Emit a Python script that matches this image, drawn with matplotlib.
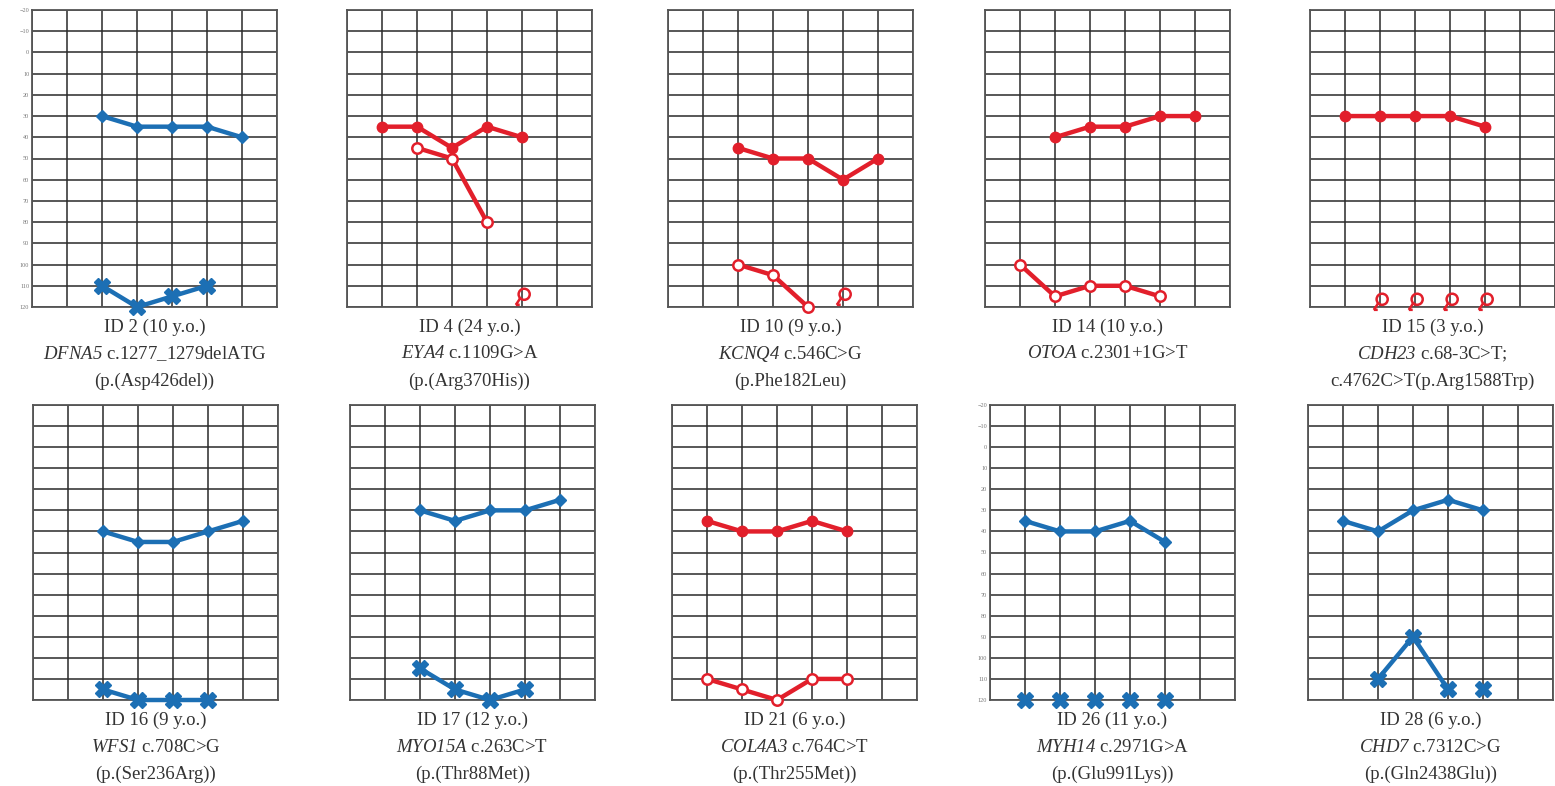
import matplotlib
matplotlib.use("Agg")
import matplotlib.pyplot as plt
from matplotlib.path import Path

plt.rcParams['font.family'] = ['Liberation Serif', 'DejaVu Serif']
plt.rcParams['mathtext.fontset'] = 'custom'
# \mathrm{} inside math mode is used for the italic gene names (digits included)
plt.rcParams['mathtext.rm'] = 'Liberation Serif:italic'
plt.rcParams['mathtext.it'] = 'Liberation Serif:italic'

BLUE = '#1c6fb4'
RED = '#e21f2b'
TXT = '#333333'

# ---- axes ----
db_ticks = list(range(-20, 121, 10))
freq_pos = list(range(8))

# ---- captions ----
ids = ["ID 2 (10 y.o.)", "ID 4 (24 y.o.)", "ID 10 (9 y.o.)", "ID 14 (10 y.o.)", "ID 15 (3 y.o.)",
       "ID 16 (9 y.o.)", "ID 17 (12 y.o.)", "ID 21 (6 y.o.)", "ID 26 (11 y.o.)", "ID 28 (6 y.o.)"]
genes = ["DFNA5", "EYA4", "KCNQ4", "OTOA", "CDH23", "WFS1", "MYO15A", "COL4A3", "MYH14", "CHD7"]
variants = ["c.1277_1279delATG", "c.1109G>A", "c.546C>G", "c.2301+1G>T", "c.68-3C>T;",
            "c.708C>G", "c.263C>T", "c.764C>T", "c.2971G>A", "c.7312C>G"]
proteins = ["(p.(Asp426del))", "(p.(Arg370His))", "(p.Phe182Leu)", "", "c.4762C>T(p.Arg1588Trp)",
            "(p.(Ser236Arg))", "(p.(Thr88Met))", "(p.(Thr255Met))", "(p.(Glu991Lys))", "(p.(Gln2438Glu))"]

# ---- thresholds (x = frequency position, y = dB) ----
id2_a_x, id2_a_y = [2, 3, 4, 5, 6], [30, 35, 35, 35, 40]
id2_b_x, id2_b_y = [2, 3, 4, 5], [110, 120, 115, 110]

id4_a_x, id4_a_y = [1, 2, 3, 4, 5], [35, 35, 45, 35, 40]
id4_b_x, id4_b_y = [2, 3, 4], [45, 50, 80]
id4_nr_x, id4_nr_y = [5], [115]

id10_a_x, id10_a_y = [2, 3, 4, 5, 6], [45, 50, 50, 60, 50]
id10_b_x, id10_b_y = [2, 3, 4], [100, 105, 120]
id10_nr_x, id10_nr_y = [5], [115]

id14_a_x, id14_a_y = [2, 3, 4, 5, 6], [40, 35, 35, 30, 30]
id14_b_x, id14_b_y = [1, 2, 3, 4, 5], [100, 115, 110, 110, 115]

id15_a_x, id15_a_y = [1, 2, 3, 4, 5], [30, 30, 30, 30, 35]
id15_nr_x, id15_nr_y = [2, 3, 4, 5], [117, 117, 117, 117]

id16_a_x, id16_a_y = [2, 3, 4, 5, 6], [40, 45, 45, 40, 35]
id16_b_x, id16_b_y = [2, 3, 4, 5], [115, 120, 120, 120]

id17_a_x, id17_a_y = [2, 3, 4, 5, 6], [30, 35, 30, 30, 25]
id17_b_x, id17_b_y = [2, 3, 4, 5], [105, 115, 120, 115]

id21_a_x, id21_a_y = [1, 2, 3, 4, 5], [35, 40, 40, 35, 40]
id21_b_x, id21_b_y = [1, 2, 3, 4, 5], [110, 115, 120, 110, 110]

id26_a_x, id26_a_y = [1, 2, 3, 4, 5], [35, 40, 40, 35, 45]
id26_s_x, id26_s_y = [1, 2, 3, 4, 5], [120, 120, 120, 120, 120]

id28_a_x, id28_a_y = [1, 2, 3, 4, 5], [35, 40, 30, 25, 30]
id28_b_x, id28_b_y = [2, 3, 4], [110, 90, 115]
id28_s_x, id28_s_y = [5], [115]

# no-response symbol: circle with a short stem going down-left
circ = Path.circle((0.15, 0.2), 0.5)
stem = Path([(-0.2, -0.15), (-0.6, -0.75), (-0.6, -0.75), (-0.25, -0.75)],
            [Path.MOVETO, Path.LINETO, Path.MOVETO, Path.LINETO])
NR_MARK = Path.make_compound_path(circ, stem)

STY = {
    'blue_a': dict(color=BLUE, lw=3.2, marker='D', ms=6.5, mfc=BLUE, mec=BLUE),
    'blue_x': dict(color=BLUE, lw=3.2, marker='X', ms=11, mfc=BLUE, mec=BLUE),
    'blue_xs': dict(color=BLUE, lw=0, marker='X', ms=11, mfc=BLUE, mec=BLUE),
    'red_a': dict(color=RED, lw=3.2, marker='o', ms=7.5, mfc=RED, mec=RED),
    'red_o': dict(color=RED, lw=3.2, marker='o', ms=7.5, mfc='white', mec=RED, mew=1.8),
    'red_nr': dict(color=RED, lw=0, marker=NR_MARK, ms=12, mfc='none', mec=RED, mew=1.8),
}

panels = [
    [(id2_a_x, id2_a_y, 'blue_a'), (id2_b_x, id2_b_y, 'blue_x')],
    [(id4_a_x, id4_a_y, 'red_a'), (id4_b_x, id4_b_y, 'red_o'), (id4_nr_x, id4_nr_y, 'red_nr')],
    [(id10_a_x, id10_a_y, 'red_a'), (id10_b_x, id10_b_y, 'red_o'), (id10_nr_x, id10_nr_y, 'red_nr')],
    [(id14_a_x, id14_a_y, 'red_a'), (id14_b_x, id14_b_y, 'red_o')],
    [(id15_a_x, id15_a_y, 'red_a'), (id15_nr_x, id15_nr_y, 'red_nr')],
    [(id16_a_x, id16_a_y, 'blue_a'), (id16_b_x, id16_b_y, 'blue_x')],
    [(id17_a_x, id17_a_y, 'blue_a'), (id17_b_x, id17_b_y, 'blue_x')],
    [(id21_a_x, id21_a_y, 'red_a'), (id21_b_x, id21_b_y, 'red_o')],
    [(id26_a_x, id26_a_y, 'blue_a'), (id26_s_x, id26_s_y, 'blue_xs')],
    [(id28_a_x, id28_a_y, 'blue_a'), (id28_b_x, id28_b_y, 'blue_x'), (id28_s_x, id28_s_y, 'blue_xs')],
]

W, H = 1555, 786
fig = plt.figure(figsize=(W / 100, H / 100), dpi=100)

lefts = [32, 347, 668, 985, 1310, 33, 350, 672, 990, 1308]
tops = [10] * 5 + [405] * 5
bottoms = [307] * 5 + [700] * 5
width = 245
labelled = {0, 8}

for i in range(10):
    l, t, b = lefts[i], tops[i], bottoms[i]
    ax = fig.add_axes([l / W, 1 - b / H, width / W, (b - t) / H])
    ax.set_xlim(0, 7)
    ax.set_ylim(120, -20)
    ax.set_xticks(freq_pos)
    ax.set_yticks(db_ticks)
    ax.grid(True, color='#2a2a2a', lw=1.1)
    ax.set_axisbelow(True)
    for sp in ax.spines.values():
        sp.set_color('#555555')
        sp.set_linewidth(1.3)
    ax.tick_params(length=0, labelbottom=False)
    if i in labelled:
        ax.tick_params(axis='y', labelsize=4.5, labelcolor='#777777', pad=2)
    else:
        ax.tick_params(axis='y', labelleft=False)
    for xs, ys, st in panels[i]:
        ax.plot(xs, ys, clip_on=False, zorder=5, **STY[st])

    cx = (l + width / 2) / W
    fig.text(cx, 1 - (b + 20) / H, ids[i], ha='center', va='center', fontsize=13.5, color=TXT)
    fig.text(cx, 1 - (b + 47) / H, r"$\mathrm{" + genes[i] + "}$ " + variants[i],
             ha='center', va='center', fontsize=13.5, color=TXT)
    if proteins[i]:
        fig.text(cx, 1 - (b + 74) / H, proteins[i], ha='center', va='center', fontsize=13.5, color=TXT)

fig.savefig("out.png", dpi=100, facecolor='white')
